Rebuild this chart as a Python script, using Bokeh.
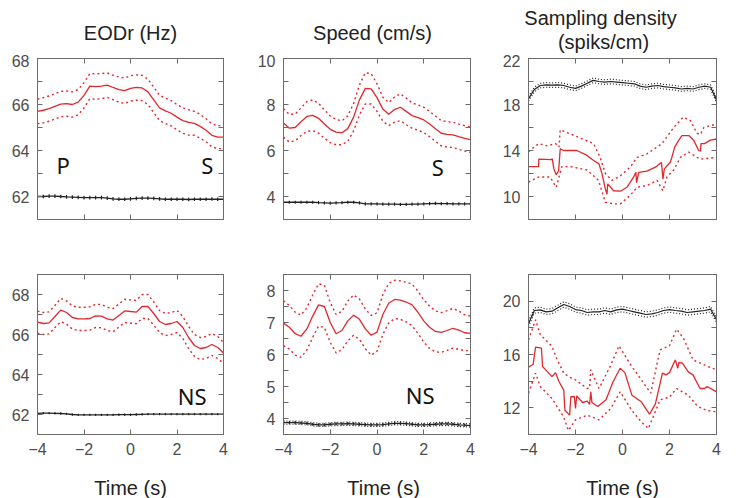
import numpy as np
from bokeh.plotting import figure
from bokeh.models import Range1d, FixedTicker, LinearAxis, Label, CustomJSTickFormatter
from bokeh.layouts import row, column
from bokeh.core.properties import value
from bokeh.embed import file_html
from bokeh.resources import INLINE

# ---------------- data ----------------
T = list(np.linspace(-4, 4, 33))  # common time grid (s)

# Panel 1: EODr (Hz), P/S
eod_s_mean = [65.70, 65.75, 65.82, 65.92, 66.02, 66.04, 66.00, 66.10, 66.40, 66.80, 66.78, 66.80,
              66.84, 66.74, 66.65, 66.60, 66.70, 66.74, 66.72, 66.55, 66.20, 65.85, 65.72, 65.62,
              65.45, 65.30, 65.22, 65.18, 65.05, 64.88, 64.66, 64.58, 64.58]
eod_s_ci = [0.53, 0.55, 0.55, 0.55, 0.55, 0.55, 0.55, 0.55, 0.55, 0.55, 0.55, 0.55,
            0.53, 0.53, 0.55, 0.55, 0.55, 0.55, 0.55, 0.55, 0.55, 0.55, 0.55, 0.55,
            0.55, 0.55, 0.55, 0.52, 0.52, 0.50, 0.50, 0.50, 0.50]
eod_s_ctrl = [62.00, 62.00, 62.02, 62.02, 62.00, 61.98, 61.97, 61.96, 61.95, 61.95, 61.95, 61.95,
              61.93, 61.90, 61.88, 61.88, 61.90, 61.92, 61.93, 61.93, 61.92, 61.90, 61.88, 61.88,
              61.88, 61.88, 61.87, 61.88, 61.88, 61.88, 61.89, 61.88, 61.88]
eod_s_ctrl_err = 0.08

# Panel 2: Speed (cm/s), S
spd_s_mean = [7.20, 6.97, 7.00, 7.25, 7.48, 7.53, 7.40, 7.15, 6.92, 6.80, 6.77, 6.95,
              7.45, 8.20, 8.70, 8.68, 8.30, 7.80, 7.58, 7.78, 7.88, 7.70, 7.52, 7.43,
              7.33, 7.15, 6.95, 6.75, 6.70, 6.68, 6.60, 6.53, 6.47]
spd_s_ci = [0.62, 0.60, 0.58, 0.60, 0.65, 0.67, 0.65, 0.62, 0.58, 0.55, 0.52, 0.55,
            0.60, 0.65, 0.68, 0.66, 0.60, 0.52, 0.50, 0.55, 0.58, 0.58, 0.55, 0.55,
            0.55, 0.55, 0.55, 0.55, 0.55, 0.55, 0.55, 0.55, 0.55]
spd_s_ctrl = [3.75, 3.75, 3.75, 3.75, 3.75, 3.75, 3.73, 3.72, 3.71, 3.72, 3.73, 3.75,
              3.75, 3.72, 3.68, 3.68, 3.68, 3.67, 3.67, 3.67, 3.66, 3.66, 3.67, 3.67,
              3.68, 3.69, 3.70, 3.69, 3.69, 3.68, 3.68, 3.68, 3.68]
spd_s_ctrl_err = 0.07

# Panel 3: Sampling density (spiks/cm), S
den_s_t = [-4.0, -3.57, -3.56, -3.03, -2.99, -2.92, -2.82, -2.72, -2.65, -2.5, -1.94, -1.51,
           -1.23, -1.0, -0.87, -0.73, -0.66, -0.63, -0.38, -0.09, 0.19, 0.47, 0.57, 0.6,
           0.69, 1.04, 1.4, 1.61, 1.66, 1.72, 1.78, 2.04, 2.1, 2.22, 2.39, 2.53, 2.82,
           3.03, 3.24, 3.32, 3.34, 3.49, 3.74, 4.0]
den_s_mean = [12.6, 12.6, 13.25, 13.2, 13.3, 12.4, 11.9, 12.2, 14.15, 14.0, 14.0, 13.57,
              13.13, 12.84, 11.97, 10.66, 10.2, 11.1, 10.5, 10.46, 10.8, 11.68, 12.1, 11.2,
              12.1, 12.2, 12.55, 12.9, 12.95, 11.5, 12.4, 13.0, 13.4, 14.3, 14.88, 15.3, 15.3,
              14.9, 14.0, 13.95, 14.6, 14.6, 14.9, 15.0]
den_s_up_t = [-4.0, -3.57, -3.2, -2.85, -2.7, -2.65, -2.4, -1.94, -1.23, -0.95, -0.73, -0.45,
              -0.09, 0.33, 0.62, 1.04, 1.47, 1.68, 2.18, 2.58, 2.89, 3.17, 3.32, 3.46, 4.0]
den_s_up = [13.9, 14.6, 14.4, 14.6, 14.3, 15.8, 15.6, 15.2, 14.6, 13.4, 12.0, 11.4,
            11.8, 12.55, 13.4, 13.7, 14.3, 14.6, 16.0, 16.9, 16.6, 15.5, 15.4, 16.0, 16.3]
den_s_lo_t = [-4.0, -3.57, -3.08, -2.82, -2.58, -2.22, -1.51, -1.02, -0.73, -0.38, -0.09, 0.33,
              0.62, 1.04, 1.47, 1.72, 1.89, 2.18, 2.46, 2.82, 3.17, 3.32, 4.0]
den_s_lo = [11.25, 11.7, 11.7, 10.8, 12.6, 12.6, 12.3, 11.4, 9.5, 9.36, 9.36, 10.1,
            10.8, 10.96, 11.4, 10.5, 11.7, 12.3, 13.4, 13.86, 13.4, 13.25, 13.4]
den_s_ctrl = [18.5, 19.3, 19.65, 19.7, 19.68, 19.7, 19.65, 19.5, 19.4, 19.6, 19.85, 20.1,
              20.0, 19.95, 20.0, 19.95, 19.9, 19.85, 19.8, 19.6, 19.5, 19.6, 19.65, 19.55,
              19.5, 19.45, 19.35, 19.4, 19.35, 19.5, 19.6, 19.5, 18.4]
den_s_ctrl_err = 0.2

# Panel 4: EODr (Hz), NS
eod_ns_mean = [66.62, 66.55, 66.58, 66.90, 67.22, 67.10, 66.85, 66.78, 66.78, 66.80, 66.93, 66.92,
               66.78, 66.72, 66.95, 67.18, 67.15, 67.12, 67.40, 67.40, 67.05, 66.65, 66.50, 66.55,
               66.65, 66.35, 65.85, 65.45, 65.30, 65.35, 65.50, 65.35, 65.08]
eod_ns_ci = [0.55, 0.55, 0.55, 0.55, 0.58, 0.58, 0.58, 0.58, 0.58, 0.58, 0.58, 0.58,
             0.58, 0.58, 0.58, 0.58, 0.58, 0.58, 0.60, 0.60, 0.58, 0.55, 0.55, 0.55,
             0.55, 0.55, 0.55, 0.55, 0.55, 0.55, 0.55, 0.55, 0.52]
eod_ns_ctrl = [62.06, 62.07, 62.07, 62.06, 62.05, 62.03, 62.00, 61.98, 61.98, 61.98, 61.98, 61.98,
               61.98, 61.98, 61.99, 61.99, 61.99, 62.00, 62.01, 62.02, 62.02, 62.02, 62.02, 62.02,
               62.02, 62.02, 62.02, 62.02, 62.02, 62.02, 62.02, 62.02, 62.02]
eod_ns_ctrl_err = 0.06

# Panel 5: Speed (cm/s), NS
spd_ns_mean = [6.98, 6.85, 6.65, 6.57, 6.80, 7.20, 7.55, 7.50, 7.00, 6.65, 6.75, 7.05,
               7.23, 7.10, 6.80, 6.60, 6.70, 7.25, 7.60, 7.72, 7.70, 7.64, 7.55, 7.32,
               7.05, 6.85, 6.72, 6.69, 6.75, 6.82, 6.76, 6.68, 6.66]
spd_ns_ci = [0.70, 0.68, 0.67, 0.66, 0.66, 0.66, 0.66, 0.66, 0.62, 0.60, 0.60, 0.62,
             0.63, 0.63, 0.62, 0.62, 0.60, 0.62, 0.62, 0.60, 0.60, 0.62, 0.65, 0.66,
             0.66, 0.66, 0.64, 0.62, 0.62, 0.62, 0.60, 0.56, 0.54]
spd_ns_ctrl = [3.87, 3.87, 3.87, 3.86, 3.85, 3.82, 3.80, 3.80, 3.82, 3.83, 3.83, 3.84,
               3.83, 3.82, 3.81, 3.80, 3.80, 3.81, 3.83, 3.85, 3.85, 3.84, 3.82, 3.80,
               3.80, 3.81, 3.82, 3.83, 3.83, 3.82, 3.80, 3.79, 3.78]
spd_ns_ctrl_err = 0.05

# Panel 6: Sampling density (spiks/cm), NS
den_ns_t = [-4.0, -3.8, -3.7, -3.45, -3.4, -3.0, -2.85, -2.7, -2.5, -2.45, -2.25, -2.2,
            -2.05, -2.0, -1.95, -1.7, -1.5, -1.4, -1.35, -1.3, -1.05, -0.7, -0.4, -0.1,
            0.1, 0.4, 0.8, 1.15, 1.4, 1.7, 1.85, 2.0, 2.25, 2.35, 2.4, 2.55, 2.8, 3.0,
            3.3, 3.5, 3.6, 4.0]
den_ns_mean = [15.04, 15.27, 16.55, 16.48, 15.09, 14.34, 14.64, 13.96, 13.33, 11.82, 11.45, 12.83,
               12.85, 11.95, 12.9, 12.4, 12.5, 12.25, 13.2, 12.4, 12.1, 12.6, 13.96, 14.97,
               14.64, 12.95, 12.45, 11.52, 12.3, 14.6, 14.47, 14.64, 15.6, 14.97, 15.4, 15.35,
               14.7, 14.47, 13.45, 13.45, 13.6, 13.2]
den_ns_up_t = [-4.0, -3.7, -3.5, -3.0, -2.8, -2.5, -2.25, -2.0, -1.5, -1.4, -1.35, -1.0,
               -0.5, -0.15, 0.3, 0.8, 1.2, 1.6, 2.0, 2.3, 2.6, 3.0, 3.5, 4.0]
den_ns_up = [17.1, 18.6, 17.5, 16.6, 15.7, 14.6, 14.3, 14.1, 13.45, 13.5, 14.85, 13.45,
             15.2, 16.65, 15.35, 14.1, 13.1, 16.35, 16.65, 17.9, 17.2, 15.6, 15.2, 14.85]
den_ns_lo_t = [-4.0, -3.7, -3.5, -3.0, -2.5, -2.3, -2.0, -1.5, -1.0, -0.5, -0.1, 0.4,
               0.8, 1.1, 1.6, 2.0, 2.3, 2.8, 3.2, 3.6, 4.0]
den_ns_lo = [13.1, 14.6, 13.6, 12.7, 11.3, 10.3, 11.1, 11.45, 11.1, 11.95, 13.2, 11.8,
             10.95, 10.45, 12.6, 12.8, 13.45, 12.95, 12.1, 11.8, 11.7]
den_ns_ctrl = [18.3, 19.3, 19.35, 19.2, 19.25, 19.5, 19.75, 19.6, 19.37, 19.3, 19.15, 19.2,
               19.2, 19.3, 19.2, 19.35, 19.4, 19.3, 19.2, 19.1, 19.0, 19.05, 19.15, 19.3,
               19.37, 19.3, 19.25, 19.15, 19.2, 19.25, 19.3, 19.4, 18.6]
den_ns_ctrl_err = 0.2

x_ticks = [-4, -2, 0, 2, 4]
titles = ["EODr (Hz)", "Speed (cm/s)"]
title3 = ["Sampling density", "(spiks/cm)"]
x_label = "Time (s)"

# ---------------- styling ----------------
FONT = "Liberation Sans"
LETTER_FONT = "Noto Sans"
AXC = "#6b6b6b"
LBLC = "#4d4d4d"
RED = "#e0282e"
BLK = "#222222"
TXT = "#222222"
DOT = "2 3"
HIDE = CustomJSTickFormatter(code="return ''")

COLW = [245, 245, 234]          # figure widths of the three columns
FRW = [186, 187, 188]           # frame widths
BL = [37, 38, 38]               # left borders
BR = [22, 20, 8]                # right borders


def style_axis(ax, ticks, minor, labels):
    ax.ticker = FixedTicker(ticks=ticks, minor_ticks=minor)
    ax.major_tick_in = 5
    ax.major_tick_out = 0
    ax.minor_tick_in = 5
    ax.minor_tick_out = 0
    ax.axis_line_color = AXC
    ax.major_tick_line_color = AXC
    ax.minor_tick_line_color = AXC
    if labels:
        ax.major_label_text_font = FONT
        ax.major_label_text_font_size = "16px"
        ax.major_label_text_color = LBLC
        ax.major_label_standoff = 8
    else:
        ax.formatter = HIDE
        ax.major_label_standoff = 0
        ax.major_label_text_font_size = "2px"
        ax.axis_label_standoff = 0


def make(col, fh, bt, bb, yr, ymaj, ymin, bottom_labels):
    p = figure(frame_width=FRW[col], frame_height=fh, x_range=Range1d(-4, 4), y_range=Range1d(*yr),
               output_backend="svg", toolbar_location=None,
               min_border_left=BL[col], min_border_right=BR[col],
               min_border_top=bt, min_border_bottom=bb)
    p.xgrid.visible = False
    p.ygrid.visible = False
    p.outline_line_color = AXC
    p.background_fill_color = "white"
    p.border_fill_color = "white"
    below = p.xaxis[0]
    style_axis(below, x_ticks, [], bottom_labels)
    style_axis(p.yaxis[0], ymaj, ymin, True)
    top = LinearAxis()
    style_axis(top, x_ticks, [], False)
    p.add_layout(top, "above")
    right = LinearAxis()
    style_axis(right, ymaj, ymin, False)
    p.add_layout(right, "right")
    return p


def strip(col, height, xs, ys, texts):
    s = figure(frame_width=COLW[col], frame_height=height, x_range=Range1d(0, COLW[col]),
               y_range=Range1d(0, height), output_backend="svg", toolbar_location=None,
               min_border=0, x_axis_type=None, y_axis_type=None)
    s.outline_line_color = None
    s.grid.visible = False
    s.background_fill_color = "white"
    s.border_fill_color = "white"
    s.text(x=xs, y=ys, text=texts, text_font=value(FONT), text_font_size=value("20px"),
           text_color=TXT, text_align="center", text_baseline="alphabetic")
    return s


def red_band(p, t, mean, ci=None, up_t=None, up=None, lo_t=None, lo=None):
    p.line(t, mean, line_color=RED, line_width=1.3)
    if ci is not None:
        upv = [m + c for m, c in zip(mean, ci)]
        lov = [m - c for m, c in zip(mean, ci)]
        p.line(t, upv, line_color=RED, line_width=1.4, line_dash=DOT)
        p.line(t, lov, line_color=RED, line_width=1.4, line_dash=DOT)
    else:
        p.line(up_t, up, line_color=RED, line_width=1.4, line_dash=DOT)
        p.line(lo_t, lo, line_color=RED, line_width=1.4, line_dash=DOT)


def black_ticks(p, t, m, err, dotted=False):
    p.line(t, m, line_color=BLK, line_width=1.3)
    p.segment(x0=t, y0=[v - err for v in m], x1=t, y1=[v + err for v in m],
              line_color=BLK, line_width=1.2)
    if dotted:
        p.line(t, [v + err for v in m], line_color=BLK, line_width=1.2, line_dash="1 2")
        p.line(t, [v - err for v in m], line_color=BLK, line_width=1.2, line_dash="1 2")


def black_dotted(p, t, m, err):
    p.line(t, m, line_color=BLK, line_width=1.2)
    p.line(t, [v + err for v in m], line_color=BLK, line_width=1.2, line_dash="1 2")
    p.line(t, [v - err for v in m], line_color=BLK, line_width=1.2, line_dash="1 2")


def letter(p, x, y, txt):
    p.add_layout(Label(x=x, y=y, text=txt, text_align="center", text_baseline="middle",
                       text_font=LETTER_FONT, text_font_size="22px", text_color="#111111"))


# ---- title strips (54 px tall) ----
s1 = strip(0, 54, [130], [22], [titles[0]])
s2 = strip(1, 54, [127], [22], [titles[1]])
s3 = strip(2, 54, [110, 113], [36.7, 13], title3)

# ---- top row of panels: frame 161 tall ----
p1 = make(0, 161, 4, 20, (61, 68), [62, 64, 66, 68], [63, 65, 67], False)
red_band(p1, T, eod_s_mean, eod_s_ci)
black_ticks(p1, T, eod_s_ctrl, eod_s_ctrl_err)
letter(p1, -2.9, 63.35, "P")
letter(p1, 3.3, 63.35, "S")

p2 = make(1, 161, 4, 20, (3, 10), [4, 6, 8, 10], [5, 7, 9], False)
red_band(p2, T, spd_s_mean, spd_s_ci)
black_ticks(p2, T, spd_s_ctrl, spd_s_ctrl_err)
letter(p2, 2.6, 5.3, "S")

p3 = make(2, 161, 4, 20, (8, 22), [10, 14, 18, 22], [12, 16, 20], False)
red_band(p3, den_s_t, den_s_mean, up_t=den_s_up_t, up=den_s_up, lo_t=den_s_lo_t, lo=den_s_lo)
black_dotted(p3, T, den_s_ctrl, den_s_ctrl_err)

# ---- bottom row: frame 160 tall ----
p4 = make(0, 160, 35, 29, (61, 69), [62, 64, 66, 68], [63, 65, 67], True)
red_band(p4, T, eod_ns_mean, eod_ns_ci)
black_ticks(p4, T, eod_ns_ctrl, eod_ns_ctrl_err)
letter(p4, 2.65, 62.95, "NS")

p5 = make(1, 160, 35, 29, (3.5, 8.5), [4, 5, 6, 7, 8], [4.5, 5.5, 6.5, 7.5], True)
red_band(p5, T, spd_ns_mean, spd_ns_ci)
black_ticks(p5, T, spd_ns_ctrl, spd_ns_ctrl_err, dotted=True)
letter(p5, 1.85, 4.75, "NS")

p6 = make(2, 160, 35, 29, (10, 22), [12, 16, 20], [14, 18], True)
red_band(p6, den_ns_t, den_ns_mean, up_t=den_ns_up_t, up=den_ns_up, lo_t=den_ns_lo_t, lo=den_ns_lo)
black_dotted(p6, T, den_ns_ctrl, den_ns_ctrl_err)

# ---- x-label strips (35 px tall) ----
x1 = strip(0, 35, [130], [11], [x_label])
x2 = strip(1, 35, [138], [11], [x_label])
x3 = strip(2, 35, [132], [11], [x_label])

layout = column(row(s1, s2, s3), row(p1, p2, p3), row(p4, p5, p6), row(x1, x2, x3))
open("out.html", "w").write(file_html(layout, INLINE))
